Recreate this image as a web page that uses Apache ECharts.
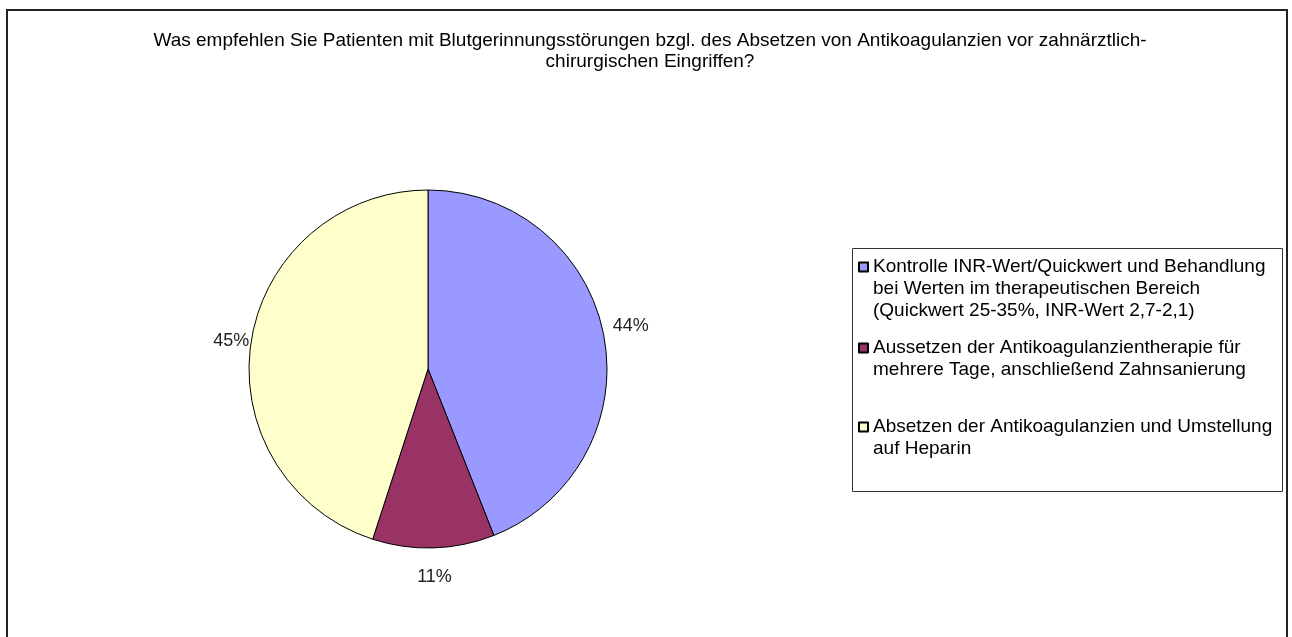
<!DOCTYPE html>
<html>
<head>
<meta charset="utf-8">
<script src="https://cdn.jsdelivr.net/npm/echarts@6/dist/echarts.min.js"></script>
<style>
  html, body { margin: 0; padding: 0; background: #fff; }
  #main { width: 1292px; height: 637px; }
</style>
</head>
<body>
<div id="main"></div>
<script>
var chartTitle = 'Was empfehlen Sie Patienten mit Blutgerinnungsstörungen bzgl. des Absetzen von Antikoagulanzien vor zahnärztlich-\nchirurgischen Eingriffen?';
var categories = [
    'Kontrolle INR-Wert/Quickwert und Behandlung\nbei Werten im therapeutischen Bereich\n(Quickwert 25-35%, INR-Wert 2,7-2,1)',
    'Aussetzen der Antikoagulanzientherapie für\nmehrere Tage, anschließend Zahnsanierung',
    'Absetzen der Antikoagulanzien und Umstellung\nauf Heparin'
];
var values = [44, 11, 45];
var colors = ['#9999FF', '#993366', '#FFFFCC'];

var myChart = echarts.init(document.getElementById('main'));

// label distance from the pie edge, per slice
var labelDist = [9, 29, 2];
var pieData = [];
for (var i = 0; i < categories.length; i++) {
    pieData.push({
        name: categories[i],
        value: values[i],
        itemStyle: { color: colors[i] },
        labelLine: { show: false, length: labelDist[i], length2: 0 }
    });
}

// one legend per entry; blank lines in front keep the marker on the first text line
var legendTops = [212, 315, 394];
var legends = [];
for (var j = 0; j < categories.length; j++) {
    (function (name) {
        var lines = name.split('\n').length;
        var pad = new Array(lines).join('\n');
        legends.push({
            data: [name],
            left: 858,
            top: legendTops[j],
            padding: 0,
            itemWidth: 9,
            itemHeight: 9,
            icon: 'rect',
            selectedMode: false,
            formatter: function (n) { return pad + n; },
            textStyle: {
                fontFamily: 'Liberation Sans, Arial, sans-serif',
                fontSize: 19,
                lineHeight: 22,
                color: '#000'
            }
        });
    })(categories[j]);
}

var option = {
    animation: false,
    title: {
        text: chartTitle,
        left: 645,
        textAlign: 'center',
        top: 25,
        textStyle: {
            fontFamily: 'Liberation Sans, Arial, sans-serif',
            fontSize: 19,
            fontWeight: 'normal',
            lineHeight: 21,
            color: '#000'
        }
    },
    legend: legends,
    graphic: [
        {
            type: 'rect',
            shape: { x: 7, y: 10, width: 1280, height: 700 },
            style: { fill: 'none', stroke: '#222', lineWidth: 2 },
            silent: true
        },
        {
            type: 'rect',
            shape: { x: 852.5, y: 248.5, width: 430, height: 243 },
            style: { fill: 'none', stroke: '#333', lineWidth: 1 },
            silent: true
        }
    ],
    series: [{
        type: 'pie',
        center: [428, 369],
        radius: 179,
        startAngle: 90,
        clockwise: true,
        data: pieData,
        itemStyle: { borderColor: '#000', borderWidth: 1 },
        label: {
            show: true,
            position: 'outside',
            formatter: '{d}%',
            distanceToLabelLine: 0,
            fontFamily: 'Liberation Sans, Arial, sans-serif',
            fontSize: 18,
            color: '#222'
        },
        labelLayout: function (p) {
            if (p.dataIndex === 1) {
                return { align: 'center' };
            }
            if (p.dataIndex === 0) {
                // small upward nudge, as in the original
                return { y: p.labelRect.y + p.labelRect.height / 2 - 8 };
            }
        },
        emphasis: { disabled: true }
    }]
};
myChart.setOption(option);
</script>
</body>
</html>
